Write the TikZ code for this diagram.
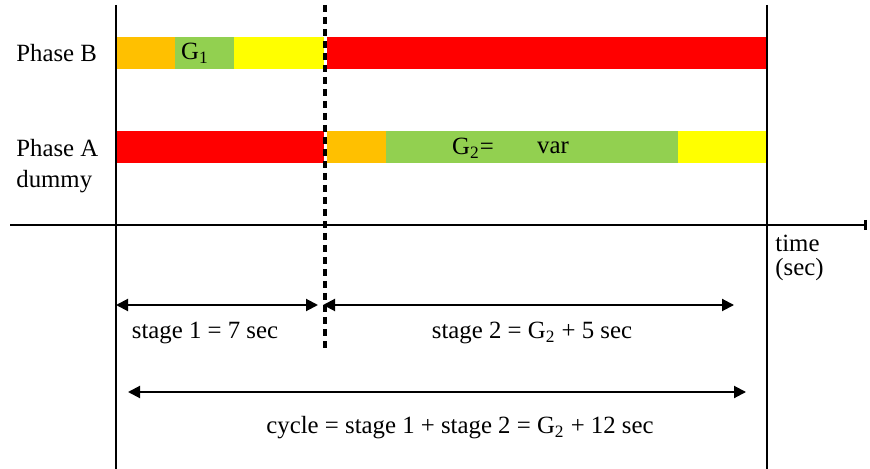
\documentclass[tikz,border=0pt]{standalone}
\usepackage{fontspec}
\setmainfont{Liberation Serif}
\usetikzlibrary{arrows.meta}
\definecolor{cred}{RGB}{255,0,0}
\definecolor{corange}{RGB}{255,192,0}
\definecolor{cgreen}{RGB}{146,208,80}
\definecolor{cyellow}{RGB}{255,255,0}
\begin{document}
\begin{tikzpicture}[x=0.5pt,y=-0.5pt,
  lbl/.style={inner sep=0pt,font=\fontsize{12.4}{15}\selectfont},
  axisline/.style={line width=1pt,black},
  dim/.style={line width=1pt,{Triangle[length=6pt,width=6pt]}-{Triangle[length=6pt,width=6pt]}}
]
\useasboundingbox (0,0) rectangle (870,469);
% bars phase B
\fill[corange] (116,37) rectangle (175,69);
\fill[cgreen] (175,37) rectangle (234,69);
\fill[cyellow] (234,37) rectangle (324,69);
\fill[cred] (327,37) rectangle (767,69);
% bars phase A
\fill[cred] (116,131) rectangle (324,163);
\fill[corange] (327,131) rectangle (386,163);
\fill[cgreen] (386,131) rectangle (678,163);
\fill[cyellow] (678,131) rectangle (767,163);
% vertical lines
\coordinate (lt) at (116,5); \coordinate (lb) at (116,469);
\coordinate (rt) at (767,5); \coordinate (rb) at (767,469);
\coordinate (dt) at (325,5); \coordinate (db) at (325,350);
\draw[axisline] (lt) -- (lb);
\draw[axisline] (rt) -- (rb);
\draw[line width=1.6pt,dash pattern=on 3.5pt off 2.5pt] (dt) -- (db);
% time axis
\coordinate (ax0) at (10,225); \coordinate (ax1) at (867,225);
\draw[axisline,-{Bar[width=5pt,line width=1.3pt]}] (ax0) -- (ax1);
% labels
\node[lbl,anchor=west] (pb) at (16,53) {Phase B};
\node[lbl,anchor=west] (pa) at (16,148) {Phase A};
\node[lbl,anchor=west] (dm) at (16,182) {dummy};
\node[lbl] (g1) at (195,53) {G\textsubscript{1}};
\node[lbl] (g2) at (473,148) {G\textsubscript{2}=};
\node[lbl] (var) at (553,148) {var};
\node[lbl,anchor=west] (tm) at (775,243) {time};
\node[lbl,anchor=west] (sc) at (775,270) {(sec)};
% dimension arrows
\coordinate (s1a) at (116,305); \coordinate (s1b) at (318,305);
\coordinate (s2a) at (323,305); \coordinate (s2b) at (734,305);
\coordinate (ca) at (128,392); \coordinate (cb) at (746,392);
\draw[dim] (s1a) -- (s1b);
\draw[dim] (s2a) -- (s2b);
\draw[dim] (ca) -- (cb);
\node[lbl] (t1) at (205,333) {stage 1 = 7 sec};
\node[lbl] (t2) at (532,333) {stage 2 = G\textsubscript{2} + 5 sec};
\node[lbl] (tc) at (460,428) {cycle = stage 1 + stage 2 = G\textsubscript{2} + 12 sec};
\end{tikzpicture}
\end{document}
